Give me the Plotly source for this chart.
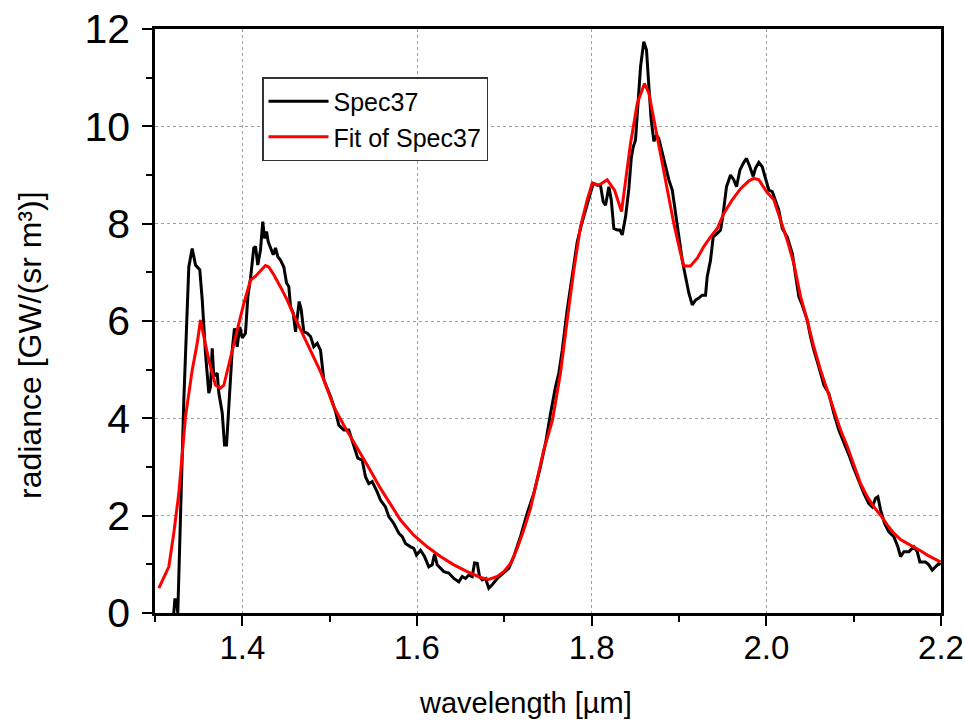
import plotly.graph_objects as go

# ---- data ----
spec_wl = [1.3215, 1.3227, 1.3246, 1.3261, 1.3292, 1.3330, 1.3387, 1.3426, 1.3464, 1.3513,
           1.3541, 1.3578, 1.3616, 1.3636, 1.3655, 1.3673, 1.3712, 1.3731, 1.3770, 1.3796,
           1.3819, 1.3845, 1.3884, 1.3910, 1.3941, 1.3971, 1.3999, 1.4036, 1.4063, 1.4094,
           1.4131, 1.4151, 1.4177, 1.4208, 1.4234, 1.4254, 1.4277, 1.4296, 1.4323, 1.4354,
           1.4380, 1.4406, 1.4437, 1.4475, 1.4506, 1.4532, 1.4552, 1.4583, 1.4609, 1.4628,
           1.4651, 1.4674, 1.4704, 1.4743, 1.4781, 1.4818, 1.4857, 1.4895, 1.4933, 1.5010,
           1.5067, 1.5105, 1.5162, 1.5219, 1.5258, 1.5296, 1.5322, 1.5373, 1.5410, 1.5448,
           1.5487, 1.5544, 1.5582, 1.5639, 1.5677, 1.5734, 1.5792, 1.5831, 1.5868, 1.5926,
           1.5963, 1.5994, 1.6040, 1.6086, 1.6135, 1.6174, 1.6201, 1.6231, 1.6269, 1.6307,
           1.6364, 1.6422, 1.6479, 1.6518, 1.6556, 1.6593, 1.6632, 1.6659, 1.6690, 1.6716,
           1.6747, 1.6785, 1.6822, 1.6861, 1.6919, 1.6994, 1.7051, 1.7109, 1.7185, 1.7262,
           1.7338, 1.7414, 1.7472, 1.7529, 1.7586, 1.7624, 1.7663, 1.7720, 1.7777, 1.7835,
           1.7892, 1.7949, 1.7987, 1.8018, 1.8064, 1.8101, 1.8132, 1.8159, 1.8197, 1.8224,
           1.8254, 1.8293, 1.8323, 1.8350, 1.8388, 1.8426, 1.8453, 1.8476, 1.8502, 1.8529,
           1.8560, 1.8597, 1.8628, 1.8655, 1.8682, 1.8712, 1.8743, 1.8769, 1.8808, 1.8846,
           1.8884, 1.8923, 1.8960, 1.8998, 1.9037, 1.9075, 1.9113, 1.9152, 1.9189, 1.9227,
           1.9266, 1.9304, 1.9323, 1.9361, 1.9392, 1.9438, 1.9476, 1.9506, 1.9544, 1.9590,
           1.9628, 1.9659, 1.9697, 1.9736, 1.9773, 1.9811, 1.9850, 1.9876, 1.9914, 1.9953,
           1.9991, 2.0029, 2.0068, 2.0105, 2.0143, 2.0182, 2.0239, 2.0297, 2.0334, 2.0372,
           2.0411, 2.0468, 2.0506, 2.0544, 2.0601, 2.0659, 2.0716, 2.0773, 2.0830, 2.0888,
           2.0945, 2.1002, 2.1059, 2.1117, 2.1174, 2.1213, 2.1251, 2.1277, 2.1308, 2.1354,
           2.1403, 2.1460, 2.1506, 2.1537, 2.1575, 2.1632, 2.1689, 2.1728, 2.1758, 2.1823,
           2.1861, 2.1900, 2.1938, 2.1976, 2.1995]
spec_rad = [0.00, 0.27, 0.27, 0.00, 1.98, 4.38, 7.11, 7.49, 7.15, 7.05,
            6.43, 5.34, 4.52, 4.65, 5.44, 4.86, 4.93, 4.52, 4.11, 3.45,
            3.45, 4.24, 5.40, 5.85, 5.47, 5.88, 5.65, 5.75, 6.50, 6.88,
            7.50, 7.53, 7.15, 7.46, 8.04, 7.70, 7.84, 7.63, 7.49, 7.36,
            7.50, 7.32, 7.25, 7.11, 6.78, 6.71, 6.29, 6.16, 5.78, 6.09,
            6.40, 6.23, 5.78, 5.75, 5.68, 5.47, 5.54, 5.40, 4.79, 4.45,
            4.14, 3.86, 3.76, 3.76, 3.55, 3.35, 3.18, 3.14, 2.80, 2.66,
            2.70, 2.49, 2.32, 2.18, 1.98, 1.84, 1.64, 1.57, 1.43, 1.36,
            1.33, 1.19, 1.29, 1.16, 0.95, 0.99, 1.21, 0.99, 0.92, 0.85,
            0.82, 0.71, 0.64, 0.75, 0.71, 0.78, 0.75, 1.03, 1.02, 0.75,
            0.68, 0.71, 0.51, 0.58, 0.71, 0.82, 0.92, 1.16, 1.57, 2.05,
            2.46, 3.01, 3.49, 4.10, 4.65, 4.93, 5.40, 6.23, 6.98, 7.63,
            8.04, 8.38, 8.62, 8.83, 8.79, 8.79, 8.45, 8.38, 8.76, 8.49,
            7.90, 7.87, 7.87, 7.77, 8.14, 8.72, 9.34, 9.58, 9.72, 10.34,
            11.23, 11.74, 11.57, 10.82, 10.13, 9.69, 9.82, 9.75, 9.45, 9.17,
            8.90, 8.69, 8.21, 7.73, 7.25, 6.91, 6.57, 6.33, 6.43, 6.47,
            6.53, 6.53, 6.91, 7.25, 7.73, 7.80, 7.87, 8.21, 8.76, 9.00,
            8.90, 8.76, 9.10, 9.24, 9.34, 9.17, 8.97, 9.14, 9.26, 9.17,
            8.90, 8.69, 8.66, 8.49, 8.28, 7.90, 7.73, 7.39, 6.98, 6.50,
            6.33, 6.02, 5.68, 5.40, 5.06, 4.68, 4.51, 4.10, 3.76, 3.52,
            3.25, 2.97, 2.70, 2.46, 2.25, 2.18, 2.36, 2.39, 2.12, 1.84,
            1.67, 1.57, 1.36, 1.16, 1.26, 1.26, 1.36, 1.26, 1.05, 1.05,
            0.99, 0.88, 0.95, 1.02, 0.99]

fit_wl = [1.3044, 1.3158, 1.3215, 1.3273, 1.3349, 1.3426, 1.3483, 1.3521, 1.3559, 1.3616,
          1.3693, 1.3750, 1.3788, 1.3865, 1.3941, 1.4017, 1.4094, 1.4151, 1.4208, 1.4265,
          1.4303, 1.4360, 1.4437, 1.4514, 1.4589, 1.4704, 1.4800, 1.4895, 1.4933, 1.5047,
          1.5162, 1.5277, 1.5430, 1.5582, 1.5697, 1.5811, 1.5963, 1.6117, 1.6269, 1.6422,
          1.6575, 1.6727, 1.6822, 1.6919, 1.6994, 1.7071, 1.7148, 1.7223, 1.7300, 1.7377,
          1.7452, 1.7552, 1.7643, 1.7720, 1.7796, 1.7872, 1.7949, 1.8006, 1.8082, 1.8178,
          1.8262, 1.8342, 1.8388, 1.8445, 1.8522, 1.8605, 1.8655, 1.8712, 1.8789, 1.8865,
          1.8941, 1.9018, 1.9056, 1.9132, 1.9209, 1.9284, 1.9361, 1.9438, 1.9513, 1.9610,
          1.9705, 1.9800, 1.9857, 1.9914, 2.0010, 2.0086, 2.0163, 2.0239, 2.0315, 2.0392,
          2.0468, 2.0544, 2.0621, 2.0697, 2.0773, 2.0850, 2.0927, 2.1002, 2.1079, 2.1155,
          2.1231, 2.1308, 2.1384, 2.1460, 2.1537, 2.1613, 2.1689, 2.1766, 2.1843, 2.1918,
          2.1995]
fit_rad = [0.51, 0.95, 1.64, 2.46, 4.03, 4.99, 5.54, 6.02, 5.68, 5.20,
           4.68, 4.62, 4.68, 5.27, 5.81, 6.36, 6.84, 6.92, 7.03, 7.14,
           7.11, 6.95, 6.70, 6.43, 6.12, 5.68, 5.34, 4.96, 4.79, 4.24,
           3.86, 3.52, 3.04, 2.56, 2.22, 1.91, 1.60, 1.36, 1.16, 0.99,
           0.85, 0.73, 0.69, 0.75, 0.85, 1.02, 1.33, 1.71, 2.15, 2.73,
           3.35, 3.97, 4.93, 6.02, 7.05, 7.94, 8.49, 8.83, 8.79, 8.90,
           8.69, 8.25, 8.90, 9.65, 10.47, 10.88, 10.68, 10.13, 9.45, 8.69,
           8.00, 7.39, 7.13, 7.13, 7.29, 7.53, 7.73, 7.90, 8.21, 8.49,
           8.72, 8.88, 8.93, 8.90, 8.64, 8.49, 8.07, 7.66, 7.18, 6.50,
           6.02, 5.47, 4.99, 4.58, 4.17, 3.76, 3.42, 3.04, 2.66, 2.39,
           2.18, 2.01, 1.81, 1.64, 1.51, 1.43, 1.36, 1.28, 1.19, 1.12,
           1.05]

series_names = ["Spec37", "Fit of Spec37"]
x_title = "wavelength [µm]"
y_title = "radiance [GW/(sr m³)]"

FONT = "Liberation Sans, Arial, sans-serif"

fig = go.Figure()
fig.add_trace(go.Scatter(x=spec_wl, y=spec_rad, mode="lines", name=series_names[0],
                         line=dict(color="black", width=3)))
fig.add_trace(go.Scatter(x=fit_wl, y=fit_rad, mode="lines", name=series_names[1],
                         line=dict(color="#ff0000", width=3)))

axis_common = dict(
    showline=True, linecolor="black", linewidth=2.5, mirror=True,
    ticks="outside", tickcolor="black", tickwidth=2, ticklen=10,
    showgrid=True, gridcolor="#a0a0a0", gridwidth=1, griddash="dot",
    zeroline=False,
)

fig.update_xaxes(
    range=[1.3, 2.2], tick0=1.4, dtick=0.2, tickformat=".1f",
    tickfont=dict(family=FONT, size=33, color="black"),
    minor=dict(dtick=0.1, tick0=1.3, ticks="outside", ticklen=6, tickwidth=2,
               tickcolor="black", showgrid=False),
    ticklabelstandoff=-6,
    **axis_common,
)
fig.update_yaxes(
    range=[0, 12], tick0=0, dtick=2,
    tickfont=dict(family=FONT, size=41, color="black"),
    minor=dict(dtick=1, ticks="outside", ticklen=6, tickwidth=2,
               tickcolor="black", showgrid=False),
    ticklabelstandoff=4,
    **axis_common,
)

fig.add_annotation(text=x_title, xref="paper", yref="paper", x=(525 - 155) / 786,
                   y=-(703 - 613) / 584, showarrow=False, xanchor="center", yanchor="middle",
                   font=dict(family=FONT, size=29, color="black"))
fig.add_annotation(text=y_title, xref="paper", yref="paper", x=-(155 - 30) / 786,
                   y=(613 - 345) / 584, showarrow=False, xanchor="center", yanchor="middle",
                   textangle=-90, font=dict(family=FONT, size=32, color="black"))

fig.update_layout(
    width=966, height=727,
    margin=dict(l=155, r=25, t=29, b=114, autoexpand=False),
    paper_bgcolor="white", plot_bgcolor="white",
    showlegend=True,
    legend=dict(x=(262 - 155) / 786, y=(613 - 77) / 584, xanchor="left", yanchor="top",
                bgcolor="white", bordercolor="#333333", borderwidth=1.5,
                font=dict(family=FONT, size=25, color="black"),
                itemwidth=60, tracegroupgap=0),
)

fig.write_html("out.html")
